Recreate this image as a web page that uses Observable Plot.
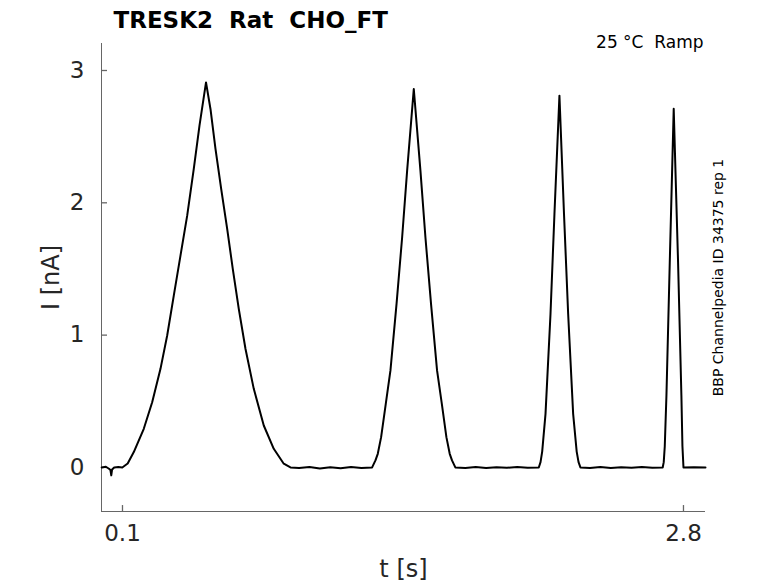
<!DOCTYPE html>
<html>
<head>
<meta charset="utf-8">
<script src="https://cdn.jsdelivr.net/npm/d3@7"></script>
<script src="https://cdn.jsdelivr.net/npm/@observablehq/plot@0.6"></script>
<style>
  html, body { margin: 0; padding: 0; background: #fff; }
  svg { font-family: "DejaVu Sans", sans-serif; }
</style>
</head>
<body>
<div id="chart"></div>
<script>
// ---- data ----
const title = "TRESK2  Rat  CHO_FT";
const condition = "25 °C  Ramp";
const sourceNote = "BBP Channelpedia ID 34375 rep 1";
const xLabel = "t [s]";
const yLabel = "I [nA]";
const xTicks = [0.1, 2.8];
const yTicks = [0, 1, 2, 3];
const xDomain = [-0.001, 2.906];
const yDomain = [-0.333, 3.204];

// time (s)
const time = [
  0, 0.02, 0.035, 0.042, 0.046, 0.05, 0.06, 0.08, 0.099,
  0.125, 0.1544, 0.2025, 0.2429, 0.2829, 0.3151, 0.3469, 0.3791, 0.4114, 0.4431, 0.4706, 0.502,
  0.5235, 0.5476, 0.575, 0.6039, 0.6308, 0.6597, 0.6919, 0.7319, 0.78, 0.8281, 0.8762, 0.9085,
  0.95, 1.0, 1.05, 1.1, 1.15, 1.2, 1.25, 1.3015,
  1.3175, 1.3287, 1.3448, 1.3672, 1.3897, 1.419, 1.446, 1.470, 1.502,
  1.534, 1.558, 1.585, 1.614, 1.637, 1.659, 1.675, 1.686, 1.702,
  1.75, 1.8, 1.85, 1.9, 1.95, 2.0, 2.05, 2.1036,
  2.112, 2.12, 2.136, 2.160, 2.179, 2.203, 2.225, 2.245, 2.269, 2.286, 2.295, 2.304,
  2.35, 2.4, 2.45, 2.5, 2.55, 2.6, 2.65, 2.700,
  2.705, 2.710, 2.718, 2.734, 2.753, 2.774, 2.790, 2.795, 2.800,
  2.85, 2.906
];
// current (nA)
const current = [
  0, 0.005, -0.01, -0.02, -0.06, -0.015, 0, 0.003, 0,
  0.03, 0.116, 0.292, 0.493, 0.745, 0.997, 1.299, 1.601, 1.903, 2.256, 2.583, 2.91,
  2.709, 2.407, 2.105, 1.803, 1.501, 1.199, 0.897, 0.594, 0.317, 0.141, 0.028, 0,
  -0.005, 0.003, -0.008, 0.002, -0.006, 0.004, -0.004, 0,
  0.053, 0.103, 0.229, 0.481, 0.733, 1.236, 1.74, 2.243, 2.86,
  2.243, 1.74, 1.236, 0.733, 0.481, 0.229, 0.103, 0.053, 0,
  -0.004, 0.003, -0.005, 0.002, -0.003, 0.004, -0.002, 0,
  0.04, 0.12, 0.405, 1.16, 1.916, 2.81, 1.916, 1.16, 0.405, 0.12, 0.04, 0,
  -0.005, 0.003, -0.004, 0.002, -0.003, 0.003, -0.002, 0,
  0.04, 0.16, 0.544, 1.55, 2.71, 1.55, 0.544, 0.16, 0,
  0.002, 0
];

const trace = time.map((t, i) => ({t, I: current[i]}));

const axisColor = "#666";
const labelColor = "#262626";

const chart = Plot.plot({
  width: 778,
  height: 583,
  marginLeft: 101,
  marginRight: 73,
  marginTop: 43,
  marginBottom: 72,
  style: {fontFamily: "'DejaVu Sans', sans-serif", background: "#fff", overflow: "visible"},
  x: {domain: xDomain},
  y: {domain: yDomain},
  marks: [
    // axis lines
    Plot.ruleX([xDomain[0]], {stroke: axisColor, strokeWidth: 1}),
    Plot.ruleY([yDomain[0]], {stroke: axisColor, strokeWidth: 1}),
    // inward tick marks (about 6 px long)
    Plot.ruleY(yTicks, {y: d => d, x1: xDomain[0], x2: xDomain[0] + 0.029, stroke: axisColor, strokeWidth: 1.3}),
    Plot.ruleX(xTicks, {x: d => d, y1: yDomain[0], y2: yDomain[0] + 0.045, stroke: axisColor, strokeWidth: 1.3}),
    // tick labels
    Plot.axisX({ticks: xTicks, tickSize: 0, tickPadding: 13, tickFormat: d => String(d), fontSize: 23, color: labelColor, label: null}),
    Plot.axisY({ticks: yTicks, tickSize: 0, tickPadding: 17, tickFormat: d => String(d), fontSize: 23, color: labelColor, label: null}),
    // the trace
    Plot.line(trace, {x: "t", y: "I", stroke: "#000", strokeWidth: 2, strokeLinejoin: "round"}),
    // title and labels
    Plot.text([title], {frameAnchor: "top-left", dx: 12, dy: -16, textAnchor: "start", lineAnchor: "bottom", fontSize: 23, fontWeight: "bold", fill: "#000"}),
    Plot.text([condition], {frameAnchor: "top-right", dx: -2, dy: 4, textAnchor: "end", lineAnchor: "bottom", fontSize: 17, fill: "#000"}),
    Plot.text([sourceNote], {frameAnchor: "right", dx: 17, rotate: -90, textAnchor: "middle", lineAnchor: "bottom", fontSize: 14, fill: "#000"}),
    Plot.text([yLabel], {frameAnchor: "left", dx: -43, rotate: -90, textAnchor: "middle", lineAnchor: "bottom", fontSize: 24, fill: labelColor}),
    Plot.text([xLabel], {frameAnchor: "bottom", dy: 65, textAnchor: "middle", lineAnchor: "bottom", fontSize: 24, fill: labelColor})
  ]
});
document.getElementById("chart").appendChild(chart);
</script>
</body>
</html>
